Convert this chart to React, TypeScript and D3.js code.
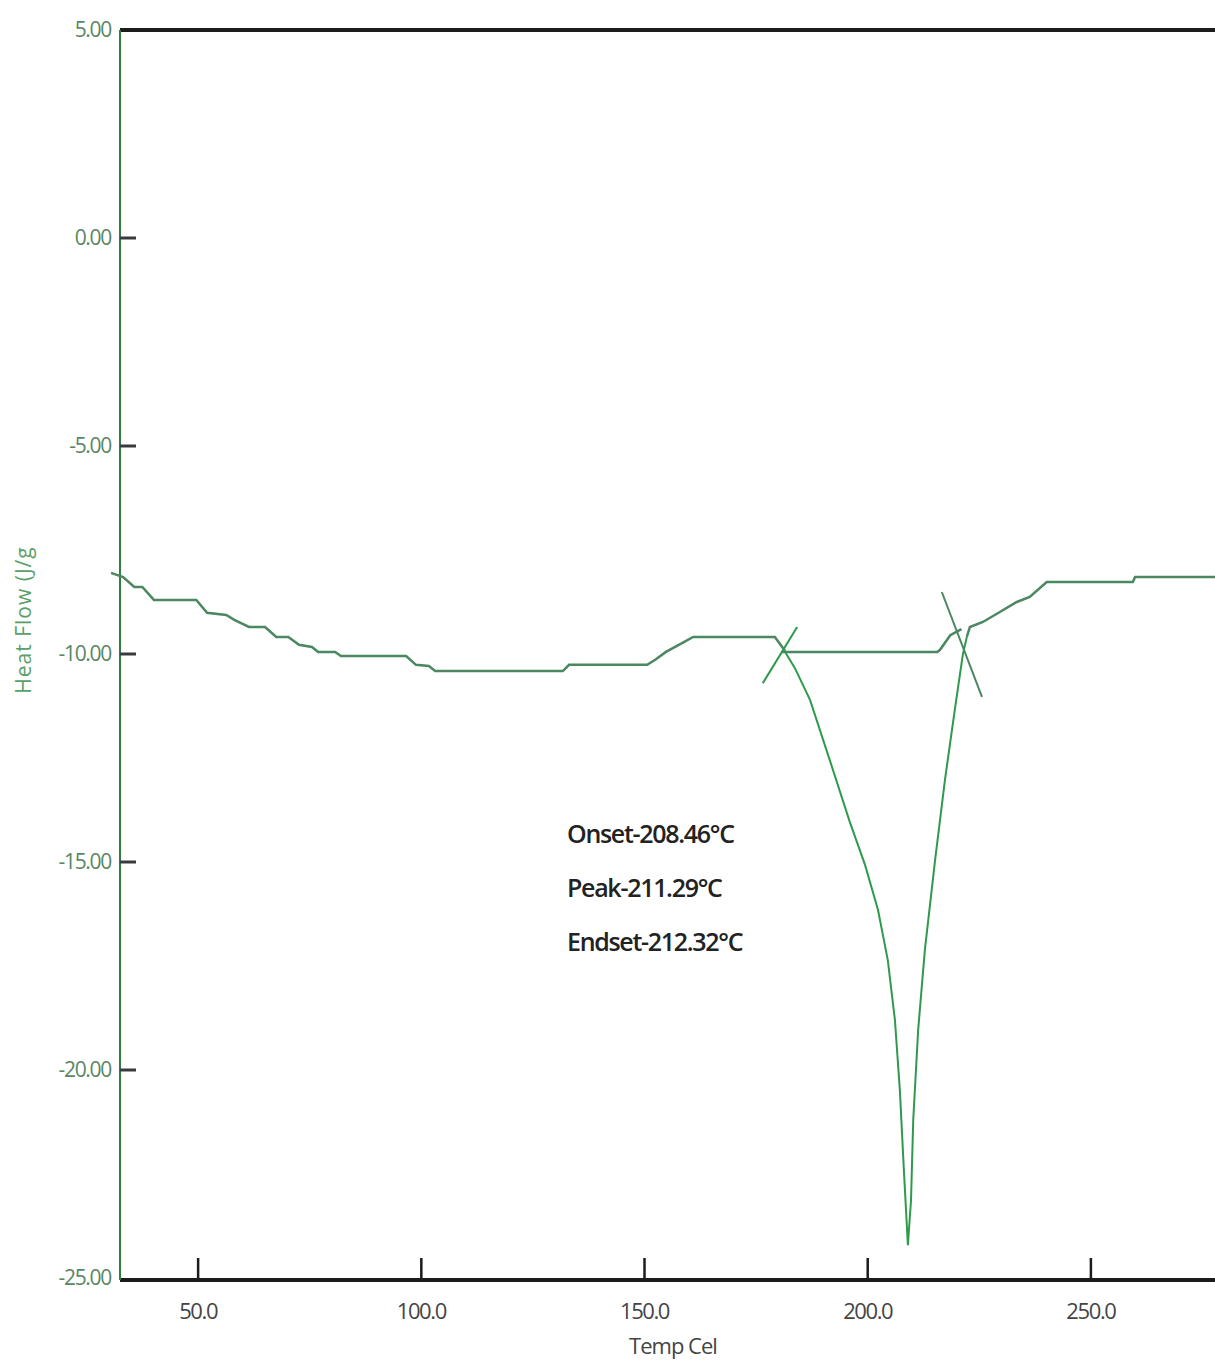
import { useMemo } from 'react';
import * as d3 from 'd3';

// heat flow trace (temp °C, J/g)
const baseTemp = [30.5, 33.2, 35.7, 37.5, 40.1, 49.6, 52.0, 56.3, 58.1, 61.4, 65.0, 67.5, 70.2, 72.6, 75.5, 76.9, 80.7, 82.0, 96.6, 98.8, 101.7, 103.1, 131.7, 133.1, 150.6, 152.4, 154.8, 158.4, 160.9, 179.2, 181.5];
const baseFlow = [-8.05, -8.15, -8.39, -8.39, -8.7, -8.7, -9.01, -9.06, -9.18, -9.35, -9.35, -9.59, -9.59, -9.78, -9.83, -9.95, -9.95, -10.05, -10.05, -10.26, -10.29, -10.41, -10.41, -10.26, -10.26, -10.14, -9.95, -9.74, -9.59, -9.59, -9.93];

const peakTemp = [181.5, 183.7, 187.1, 191.5, 196.0, 199.4, 202.3, 204.5, 206.1, 207.2, 208.1, 209.0, 209.7, 210.2, 211.3, 212.8, 215.1, 217.3, 219.5, 221.3, 222.2];
const peakFlow = [-9.95, -10.34, -11.11, -12.55, -14.04, -15.07, -16.15, -17.36, -18.8, -20.48, -22.4, -24.21, -23.13, -21.2, -19.04, -17.12, -14.95, -13.03, -11.35, -10.02, -9.59];

const tailTemp = [222.2, 222.9, 225.8, 229.6, 233.4, 236.3, 240.1, 259.4, 259.9, 277.8];
const tailFlow = [-9.59, -9.35, -9.23, -8.99, -8.75, -8.63, -8.27, -8.27, -8.15, -8.15];

// integration baseline under the peak
const lineTemp = [180.6, 215.6, 216.2, 218.5, 221.0];
const lineFlow = [-9.95, -9.95, -9.9, -9.55, -9.4];

// onset / endset tangents
const onsetTemp = [176.5, 184.2];
const onsetFlow = [-10.7, -9.35];
const endsetTemp = [216.6, 225.6];
const endsetFlow = [-8.51, -11.03];

const xTicks = [50, 100, 150, 200, 250];
const yTicks = [5, 0, -5, -10, -15, -20, -25];
const notes = ['Onset-208.46°C', 'Peak-211.29°C', 'Endset-212.32°C'];

const W = 1215;
const H = 1366;

function zipPts(xs: number[], ys: number[]): [number, number][] {
  return xs.map((v, i) => [v, ys[i]]);
}

export default function App() {
  const x = d3.scaleLinear().domain([32.5, 277.8]).range([120, 1215]);
  const y = d3.scaleLinear().domain([5, -25]).range([30, 1278]);

  const line = useMemo(
    () =>
      d3
        .line<[number, number]>()
        .x((d) => x(d[0]))
        .y((d) => y(d[1])),
    []
  );

  const fnt = "'Open Sans', sans-serif";

  return (
    <svg
      width={W}
      height={H}
      style={{ position: 'absolute', left: 0, top: 0, background: '#fff' }}
    >
      {/* frame */}
      <line x1={x(32.5)} x2={W} y1={y(5)} y2={y(5)} stroke="#1c1c1c" strokeWidth={4} />
      <line x1={x(32.5)} x2={W} y1={y(-25) + 2} y2={y(-25) + 2} stroke="#1c1c1c" strokeWidth={4} />
      <line x1={x(32.5)} x2={x(32.5)} y1={y(5)} y2={y(-25) + 2} stroke="#2f7d3f" strokeWidth={2} />

      {/* y ticks */}
      {yTicks.map((t) => (
        <g key={`y${t}`}>
          {t !== 5 && t !== -25 && (
            <line x1={x(32.5)} x2={x(32.5) + 16} y1={y(t)} y2={y(t)} stroke="#3a3a3a" strokeWidth={3} />
          )}
          <text
            x={x(32.5) - 9}
            y={y(t)}
            dy="0.35em"
            textAnchor="end"
            fontFamily={fnt}
            fontSize={21}
            letterSpacing={-1.3}
            fill="#5a8664"
          >
            {t.toFixed(2)}
          </text>
        </g>
      ))}

      {/* x ticks */}
      {xTicks.map((t) => (
        <g key={`x${t}`}>
          <line x1={x(t)} x2={x(t)} y1={y(-25) + 2} y2={y(-25) - 20} stroke="#1c1c1c" strokeWidth={2.5} />
          <text
            x={x(t)}
            y={1319}
            textAnchor="middle"
            fontFamily={fnt}
            fontSize={22}
            letterSpacing={-1.4}
            fill="#444"
          >
            {t.toFixed(1)}
          </text>
        </g>
      ))}

      <text
        x={673}
        y={1354}
        textAnchor="middle"
        fontFamily={fnt}
        fontSize={22}
        letterSpacing={-1}
        fill="#444"
      >
        Temp Cel
      </text>
      <text
        transform="translate(31,620) rotate(-90)"
        textAnchor="middle"
        fontFamily={fnt}
        fontSize={21}
        letterSpacing={1}
        fill="#5aa06a"
      >
        Heat Flow (J/g
      </text>

      {/* trace */}
      <path d={line(zipPts(baseTemp, baseFlow)) ?? ''} fill="none" stroke="#4b8760" strokeWidth={2.5} />
      <path d={line(zipPts(tailTemp, tailFlow)) ?? ''} fill="none" stroke="#4b8760" strokeWidth={2.5} />
      <path d={line(zipPts(lineTemp, lineFlow)) ?? ''} fill="none" stroke="#4b8760" strokeWidth={2.5} />
      <path d={line(zipPts(peakTemp, peakFlow)) ?? ''} fill="none" stroke="#2e9a4c" strokeWidth={2} />
      <path d={line(zipPts(onsetTemp, onsetFlow)) ?? ''} fill="none" stroke="#2e9a4c" strokeWidth={2} />
      <path d={line(zipPts(endsetTemp, endsetFlow)) ?? ''} fill="none" stroke="#4b8760" strokeWidth={2} />

      {/* annotation */}
      {notes.map((n, i) => (
        <text
          key={n}
          x={567}
          y={843 + i * 54}
          fontFamily={fnt}
          fontSize={25}
          fontWeight={600}
          letterSpacing={-1.3}
          fill="#222"
        >
          {n}
        </text>
      ))}
    </svg>
  );
}
